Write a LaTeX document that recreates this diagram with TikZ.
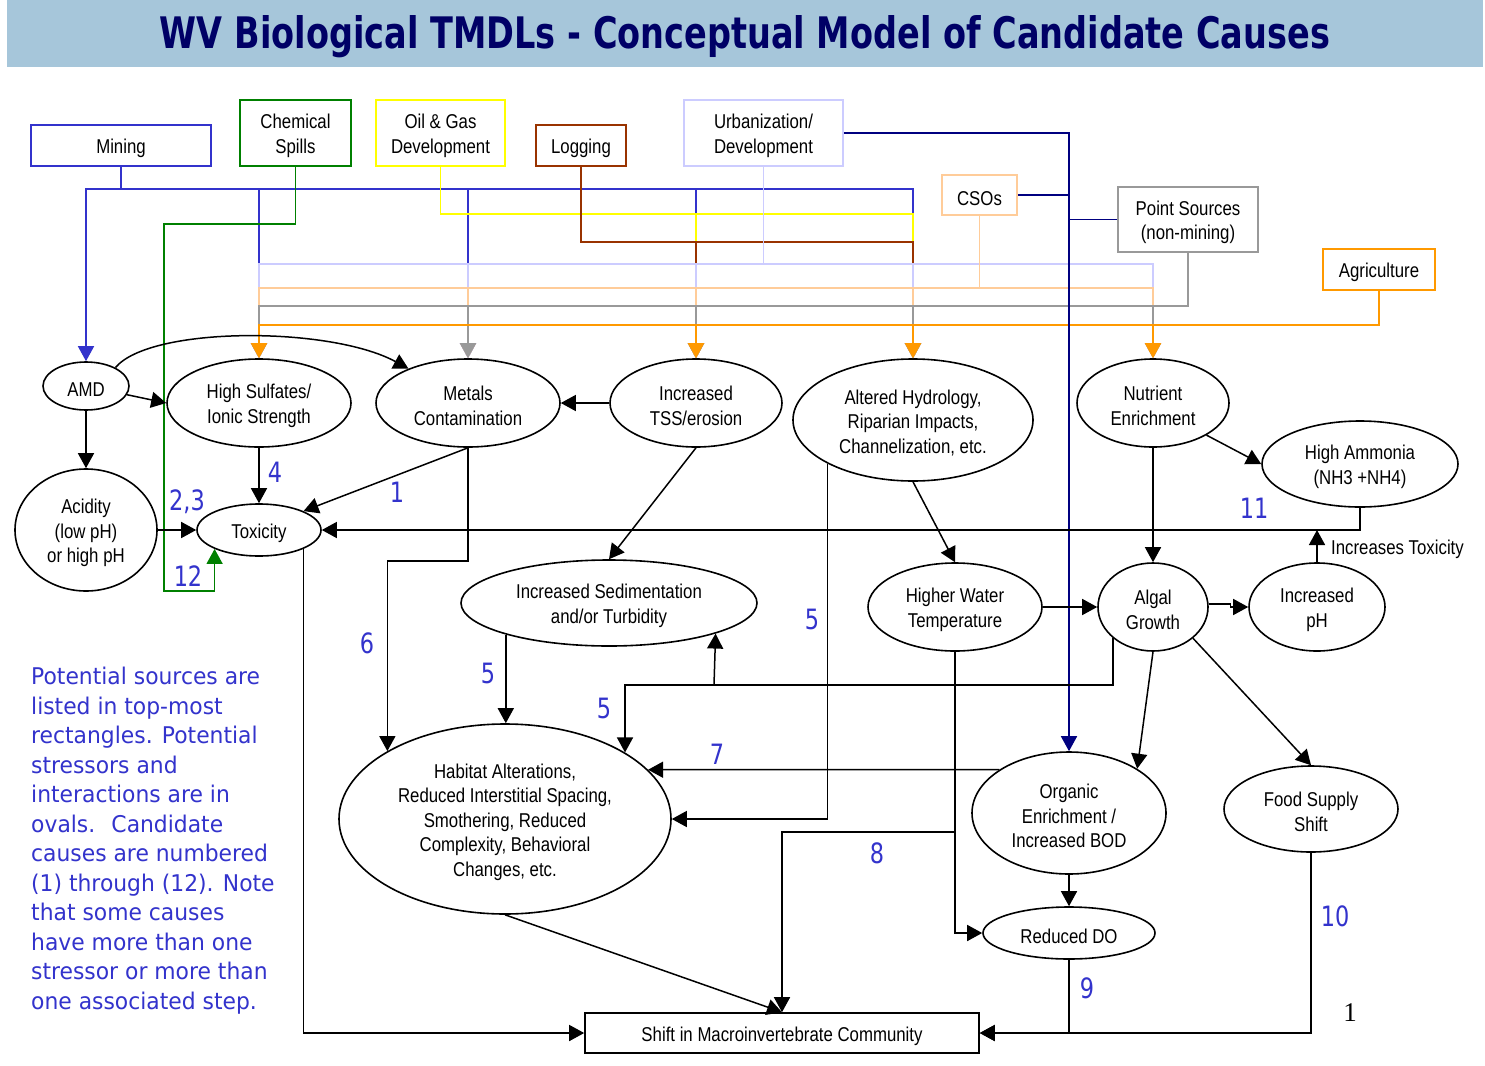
\documentclass[tikz,border=0pt]{standalone}
\usepackage{fontspec}
\usepackage{graphicx}
\setmainfont{Liberation Sans}[FakeStretch=0.84]
\newfontfamily\numfont{DejaVu Sans}[FakeStretch=0.8]
\newfontfamily\parafont{DejaVu Sans}[FakeStretch=0.95]
\newfontfamily\titlefont{DejaVu Sans}
\newfontfamily\serifnum{Liberation Serif}
\usetikzlibrary{shapes.geometric,arrows.meta,calc}

\definecolor{cMining}{RGB}{51,51,204}
\definecolor{cChem}{RGB}{0,128,0}
\definecolor{cOil}{RGB}{255,255,0}
\definecolor{cLog}{RGB}{153,51,0}
\definecolor{cUrb}{RGB}{204,204,255}
\definecolor{cCSO}{RGB}{255,204,153}
\definecolor{cPt}{RGB}{153,153,153}
\definecolor{cAg}{RGB}{255,153,0}
\definecolor{cNavy}{RGB}{0,0,128}
\definecolor{cNum}{RGB}{51,51,204}
\definecolor{cTitleBg}{RGB}{166,198,218}
\definecolor{cTitle}{RGB}{0,0,102}

\newcommand{\tl}{\rule{0pt}{20.5pt}}

\tikzset{
  txt/.style={font=\fontsize{20}{24.5}\selectfont},
  srcbox/.style={draw, line width=1.6pt, inner sep=0pt, align=center, txt},
  oval/.style={ellipse, draw, line width=1.6pt, inner sep=0pt, align=center, txt},
  arr/.style={line width=1.5pt, -{Triangle[length=15pt,width=16pt]}},
  bus/.style={line width=1.6pt, -{Triangle[length=15pt,width=16pt]}},
  plainbus/.style={line width=1.6pt},
  num/.style={text=cNum, font=\numfont\fontsize{28}{30}\selectfont, inner sep=0pt}
}

\begin{document}
\begin{tikzpicture}[x=1pt,y=-1pt]
\useasboundingbox (0,0) rectangle (1485,1065);
\fill[white] (0,0) rectangle (1485,1065);

% title
\fill[cTitleBg] (7,0) rectangle (1483,67);
\node[inner sep=0pt, text=cTitle] (title) at (745,37)
  {\resizebox{1170pt}{33pt}{\titlefont\bfseries WV Biological TMDLs - Conceptual Model of Candidate Causes}};

% source boxes
\node[srcbox, draw=cMining, minimum width=180pt, minimum height=41pt] (mining) at (121,145.5) {\tl Mining};
\node[srcbox, draw=cChem, minimum width=111pt, minimum height=66pt] (chem) at (295.5,133) {\tl Chemical\\Spills};
\node[srcbox, draw=cOil, minimum width=129pt, minimum height=66pt] (oil) at (440.5,133) {\tl Oil \& Gas\\Development};
\node[srcbox, draw=cLog, minimum width=90pt, minimum height=41pt] (logging) at (581,145.5) {\tl Logging};
\node[srcbox, draw=cUrb, minimum width=159pt, minimum height=66pt] (urban) at (763.5,133) {\tl Urbanization/\\Development};
\node[srcbox, draw=cCSO, minimum width=75pt, minimum height=40pt] (cso) at (979.5,195) {\tl CSOs};
\node[srcbox, draw=cPt, minimum width=140pt, minimum height=65pt] (point) at (1188,219.5) {\tl Point Sources\\(non-mining)};
\node[srcbox, draw=cAg, minimum width=112pt, minimum height=41pt] (agri) at (1379,269.5) {\tl Agriculture};

% ovals
\node[oval, minimum width=86pt, minimum height=48pt] (amd) at (86,386) {\tl AMD};
\node[oval, minimum width=184pt, minimum height=88pt] (hs) at (259,403) {\tl High Sulfates/\\Ionic Strength};
\node[oval, minimum width=184pt, minimum height=88pt] (metals) at (468,403) {\tl Metals\\Contamination};
\node[oval, minimum width=172pt, minimum height=88pt] (tss) at (696,403) {\tl Increased\\TSS/erosion};
\node[oval, minimum width=240pt, minimum height=122pt] (alt) at (913,420) {\tl Altered Hydrology,\\Riparian Impacts,\\Channelization, etc.};
\node[oval, minimum width=152pt, minimum height=88pt] (nut) at (1153,403) {\tl Nutrient\\Enrichment};
\node[oval, minimum width=196pt, minimum height=86pt] (amm) at (1360,464) {\tl High Ammonia\\(NH3 +NH4)};
\node[oval, minimum width=142pt, minimum height=122pt] (acid) at (86,530) {\tl Acidity\\(low pH)\\or high pH};
\node[oval, minimum width=124pt, minimum height=52pt] (tox) at (259,530) {\tl Toxicity};
\node[oval, minimum width=296pt, minimum height=86pt] (sed) at (609,603) {\tl Increased Sedimentation\\and/or Turbidity};
\node[oval, minimum width=174pt, minimum height=88pt] (hwt) at (955,607) {\tl Higher Water\\Temperature};
\node[oval, minimum width=110pt, minimum height=88pt] (alg) at (1153,607) {\tl Algal\\Growth};
\node[oval, minimum width=136pt, minimum height=88pt] (ph) at (1317,607) {\tl Increased\\pH};
\node[oval, minimum width=332pt, minimum height=190pt] (hab) at (505,819) {\tl Habitat Alterations,\\Reduced Interstitial Spacing,\\Smothering, Reduced\\Complexity, Behavioral\\Changes, etc.};
\node[oval, minimum width=194pt, minimum height=122pt] (org) at (1069,813) {\tl Organic\\Enrichment /\\Increased BOD};
\node[oval, minimum width=174pt, minimum height=86pt] (food) at (1311,809) {\tl Food Supply\\Shift};
\node[oval, minimum width=172pt, minimum height=52pt] (rdo) at (1069,933) {\tl Reduced DO};
\node[srcbox, draw=black, minimum width=394pt, minimum height=40pt] (shift) at (782,1033) {\tl Shift in Macroinvertebrate Community};

% source buses
\foreach \t in {amd,hs,metals,tss,alt}
  \draw[bus, cMining] (mining.south) -- ++(0,22) -| (\t.north);
\draw[bus, cChem] (chem.south) -- ++(0,57) -| (164,591) -| (tox.south west);
\foreach \t in {tss,alt}
  \draw[bus, cOil] (oil.south) -- ++(0,47) -| (\t.north);
\foreach \t in {tss,alt}
  \draw[bus, cLog] (logging.south) -- ++(0,75) -| (\t.north);
\foreach \t in {hs,metals,tss,alt,nut}
  \draw[bus, cUrb] (urban.south) -- ++(0,97) -| (\t.north);
\foreach \t in {hs,metals,tss,alt,nut}
  \draw[bus, cCSO] (cso.south) -- ++(0,72) -| (\t.north);
\foreach \t in {hs,metals,tss,alt,nut}
  \draw[bus, cPt] (point.south) -- ++(0,53) -| (\t.north);
\foreach \t in {hs,tss,alt,nut}
  \draw[bus, cAg] (agri.south) -- ++(0,34) -| (\t.north);
\draw[bus, cNavy] (urban.east) -| (org.north);
\draw[plainbus, cNavy] (cso.east) -- (cso.east -| org.north);
\draw[plainbus, cNavy] (point.west) -- (point.west -| org.north);

% black connectors
\draw[arr] (amd.-12) -- (hs.west);
\draw[arr] (amd.32) .. controls (150,326) and (330,326) .. (metals.150);
\draw[arr] (amd.south) -- (acid.north);
\draw[arr] (hs.south) -- (tox.north);
\draw[arr] (metals.south) -- (tox.23);
\draw[arr] (acid.east) -- (tox.west);
\draw[arr] (tss.west) -- (metals.east);
\draw[arr] (metals.south) -- ++(0,113) -| (hab.150);
\draw[arr] (tss.south) -- (sed.north);
\draw[arr] (sed.197) -- (sed.197 |- hab.north);
\coordinate (j1) at (714,685);
\draw[arr] (alg.218) |- (j1) -| (hab.29.5);
\draw[arr] (j1) -- (sed.-16);
\draw[arr] (alt.207) |- (hab.east);
\draw[arr] (alt.south) -- (hwt.north);
\draw[arr] (tox.-23) |- (shift.west);
\draw[arr] (amm.south) |- (tox.east);
\draw[arr] (ph.north) -- (ph.north |- tox.east);
\draw[arr] (nut.south) -- (alg.north);
\draw[arr] (nut.-31) -- (amm.west);
\draw[arr] (hwt.east) -- (alg.west);
\draw[arr] (alg.3) -- ++(22,0) |- (ph.west);
\draw[arr] (alg.south) -- (org.33);
\draw[arr] (alg.-38) -- (food.north);
\draw[arr] (org.148) -- (hab.19);
\draw[arr] (hwt.south) |- (rdo.west);
\draw[arr] ($(hwt.south)+(0,180)$) -| (shift.north);
\draw[arr] (hab.south) -- (shift.north);
\draw[arr] (org.south) -- (rdo.north);
\draw[arr] (rdo.south) |- (shift.east);
\draw[arr] (food.south) |- (shift.east);

% labels
\node[num] (l4) at (275,472) {4};
\node[num] (l1) at (397,492) {1};
\node[num] (l23) at (187,502) {2,3};
\node[num] (l12) at (188,576) {12};
\node[num] (l6) at (367,643) {6};
\node[num] (l5a) at (488,673) {5};
\node[num] (l5b) at (604,708) {5};
\node[num] (l5c) at (812,619) {5};
\node[num] (l7) at (717,754) {7};
\node[num] (l8) at (877,853) {8};
\node[num] (l9) at (1087,988) {9};
\node[num] (l10) at (1335,916) {10};
\node[num] (l11) at (1254,508) {11};
\node[txt, anchor=west, inner sep=0pt] (inctox) at (1331,546) {\tl Increases Toxicity};
\node[inner sep=0pt, font=\serifnum\fontsize{27}{30}\selectfont] (pg) at (1350,1013) {1};

\node[anchor=north west, inner sep=0pt, align=left, text=cNum,
  font=\parafont\fontsize{23}{29.5}\selectfont] (para) at (31,667)
  {Potential sources are\\listed in top-most\\rectangles. Potential\\stressors and\\interactions are in\\ovals.~ Candidate\\causes are numbered\\(1) through (12). Note\\that some causes\\have more than one\\stressor or more than\\one associated step.};
\end{tikzpicture}
\end{document}
